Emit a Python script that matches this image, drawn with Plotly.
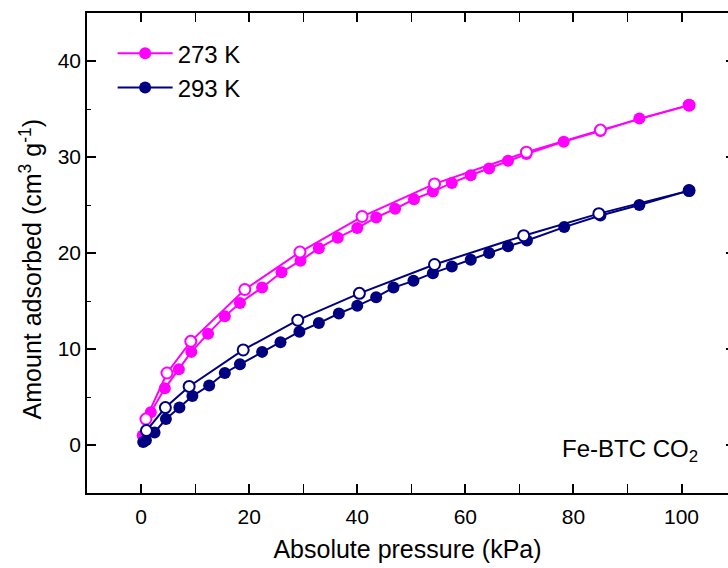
import plotly.graph_objects as go

# CO2 isotherms on Fe-BTC: adsorption (filled) and desorption (open) branches
p273_ads = [0.3, 1.8, 4.4, 7.0, 9.3, 12.4, 15.5, 18.3, 22.4, 26.0, 29.5, 32.9, 36.4, 40.0,
            43.5, 47.0, 50.5, 54.0, 57.5, 61.0, 64.4, 67.9, 71.3, 78.2, 85.0, 92.2, 101.4]
q273_ads = [1.0, 3.4, 5.9, 7.9, 9.7, 11.6, 13.4, 14.8, 16.4, 18.0, 19.2, 20.5, 21.6, 22.6,
            23.7, 24.6, 25.6, 26.4, 27.3, 28.1, 28.8, 29.6, 30.3, 31.6, 32.7, 34.0, 35.4]
p273_des = [101.4, 85.0, 71.3, 54.3, 40.9, 29.4, 19.2, 9.2, 4.8, 0.9]
q273_des = [35.4, 32.8, 30.5, 27.2, 23.8, 20.1, 16.2, 10.8, 7.5, 2.7]

p293_ads = [0.4, 0.9, 2.5, 4.6, 7.1, 9.5, 12.6, 15.5, 18.3, 22.4, 25.8, 29.3, 32.9, 36.6,
            40.0, 43.5, 46.7, 50.4, 54.0, 57.5, 61.0, 64.4, 67.9, 71.4, 78.3, 85.0, 92.2, 101.4]
q293_ads = [0.3, 0.5, 1.3, 2.7, 3.9, 5.1, 6.2, 7.5, 8.4, 9.7, 10.7, 11.8, 12.7, 13.7,
            14.5, 15.4, 16.4, 17.1, 17.9, 18.6, 19.3, 20.0, 20.7, 21.3, 22.7, 23.9, 25.0, 26.5]
p293_des = [101.4, 84.7, 70.8, 54.3, 40.4, 29.0, 18.9, 8.9, 4.5, 1.0]
q293_des = [26.5, 24.1, 21.8, 18.8, 15.8, 13.0, 9.9, 6.1, 3.9, 1.5]

series_names = ["273 K", "293 K"]
x_ticks = [0, 20, 40, 60, 80, 100]
y_ticks = [0, 10, 20, 30, 40]

MAGENTA = "#FF00FF"
NAVY = "#000080"
FONT = "Arial, Liberation Sans, sans-serif"

fig = go.Figure()

def add_pair(name, color, px_a, qy_a, px_d, qy_d):
    fig.add_trace(go.Scatter(
        x=px_a, y=qy_a, mode="lines+markers", name=name,
        line=dict(color=color, width=2),
        marker=dict(symbol="circle", size=12, color=color, line=dict(width=0)),
    ))
    # first desorption point is the last adsorption point (kept filled)
    fills = [color] + ["white"] * (len(px_d) - 1)
    fig.add_trace(go.Scatter(
        x=px_d, y=qy_d, mode="lines+markers", showlegend=False,
        line=dict(color=color, width=2),
        marker=dict(symbol="circle", size=11, color=fills, line=dict(color=color, width=2)),
    ))

add_pair(series_names[0], MAGENTA, p273_ads, q273_ads, p273_des, q273_des)
add_pair(series_names[1], NAVY, p293_ads, q293_ads, p293_des, q293_des)

# invisible overlay axis only for the short right-hand tick marks
fig.add_trace(go.Scatter(x=[None], y=[None], yaxis="y2", showlegend=False, hoverinfo="skip"))

fig.add_annotation(
    x=0.957, y=0.088, xref="paper", yref="paper", xanchor="right", yanchor="middle",
    text="Fe-BTC CO<sub>2</sub>", showarrow=False,
    font=dict(family=FONT, size=24, color="black"),
)

# y-axis title placed as a rotated annotation
fig.add_annotation(
    x=-0.088, y=0.465, xref="paper", yref="paper", xanchor="center", yanchor="middle",
    text="Amount adsorbed (cm<sup>3</sup> g<sup>-1</sup>)", textangle=-90, showarrow=False,
    font=dict(family=FONT, size=25, color="black"),
)

axis_common = dict(
    showgrid=False, zeroline=False, showline=True, linecolor="black", linewidth=1.5,
    ticks="inside", ticklen=9, tickwidth=1.5, tickcolor="black",
    tickfont=dict(family=FONT, size=21, color="black"),
)

fig.update_layout(
    width=728, height=568,
    margin=dict(l=87, r=0, t=13, b=75),
    paper_bgcolor="white", plot_bgcolor="white",
    font=dict(family=FONT, color="black"),
    showlegend=True,
    legend=dict(
        x=0.04, y=0.962, xanchor="left", yanchor="top",
        bgcolor="rgba(0,0,0,0)", font=dict(family=FONT, size=24, color="black"),
        itemwidth=55, tracegroupgap=0,
    ),
    xaxis=dict(
        **axis_common, range=[-10, 108.6], tickvals=x_ticks, mirror="allticks",
        ticklabelstandoff=4,
        minor=dict(ticks="inside", ticklen=4, tickwidth=1, tickcolor="black", dtick=10, tick0=0),
        title=dict(text="Absolute pressure (kPa)", font=dict(family=FONT, size=25, color="black"),
                   standoff=14),
    ),
    yaxis=dict(
        **axis_common, range=[-5, 45], tickvals=y_ticks,
        minor=dict(ticks="inside", ticklen=4, tickwidth=1, tickcolor="black", dtick=5, tick0=0),
    ),
    yaxis2=dict(
        overlaying="y", side="right", range=[-5, 45], tickvals=y_ticks,
        showgrid=False, zeroline=False, showline=False, showticklabels=False,
        ticks="inside", ticklen=2, tickwidth=1.5, tickcolor="black",
    ),
)

fig.write_html("out.html")
